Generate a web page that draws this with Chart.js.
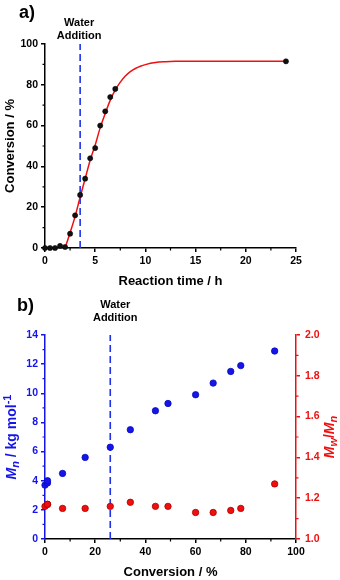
<!DOCTYPE html>
<html lang="en">
<head>
  <meta charset="UTF-8">
  <title>Conversion and molar mass</title>
  <script src="https://cdn.jsdelivr.net/npm/chart.js"></script>
  <style>
    html, body { margin: 0; padding: 0; background: #fff; }
    canvas { display: block; }
  </style>
</head>
<body>
  <canvas id="chartA" width="340" height="290"></canvas>
  <canvas id="chartB" width="340" height="290"></canvas>

  <script>
    // a) conversion vs reaction time
    const timeH = [0, 0.5, 1, 1.5, 2, 2.5, 3, 3.5, 4, 4.5, 5, 5.5, 6, 6.5, 7, 24];
    const conversion = [0, 0, 0, 1, 0.5, 7, 16, 26, 34, 44, 49, 60, 67, 74, 78, 91.5];
    // red fit curve
    const fitTime = [2, 2.5, 3, 3.5, 4, 4.5, 5, 5.5, 6, 6.5, 7, 7.5, 8, 8.5, 9, 9.5, 10, 11, 12, 13, 15, 24];
    const fitConv = [0, 7.5, 15.5, 25, 34, 43, 50.5, 59, 66, 72.5, 77.5, 81.3, 84.3, 86.5, 88, 89.1, 89.9, 90.9, 91.3, 91.5, 91.6, 91.6];
    const waterTime = 3.5;

    // b) Mn and dispersity vs conversion
    const convB = [0, 1, 1, 7, 16, 26, 34, 44, 49, 60, 67, 74, 78, 91.5];
    const mnB = [3.7, 3.85, 4.0, 4.5, 5.6, 6.3, 7.5, 8.8, 9.3, 9.9, 10.7, 11.5, 11.9, 12.9];
    const dispB = [1.16, 1.17, 1.17, 1.15, 1.15, 1.16, 1.18, 1.16, 1.16, 1.13, 1.13, 1.14, 1.15, 1.27];
    const waterConv = 26;

    const FONT = "'Liberation Sans', Arial, sans-serif";
    const BLUE = 'rgb(20,20,235)';
    const RED = 'rgb(240,15,15)';
    const LINE_BLUE = 'rgb(30,50,235)';

    Chart.defaults.font.family = FONT;
    Chart.defaults.font.weight = 'bold';
    Chart.defaults.color = '#000';

    const pts = (xs, ys) => xs.map((x, i) => ({ x: x, y: ys[i] }));

    function axis(color, min, max, step, size, extra) {
      return Object.assign({
        type: 'linear', min: min, max: max,
        border: { display: true, color: color, width: 1.5 },
        grid: { drawOnChartArea: false, drawTicks: true, tickLength: 4, color: color, lineWidth: 1.5 },
        ticks: { stepSize: step, color: color, autoSkip: false, maxRotation: 0,
                 font: { size: 10.5, weight: 'bold' }, padding: 3 },
        afterFit: s => { if (s.isHorizontal()) s.height = size; else s.width = size; }
      }, extra || {});
    }

    // small unlabeled ticks between the major ones
    const minorTicks = {
      id: 'minorTicks',
      afterDraw(chart, args, opts) {
        const ctx = chart.ctx;
        for (const id in opts.steps) {
          const s = chart.scales[id];
          const step = opts.steps[id];
          const n = Math.round((s.max - s.min) / step);
          ctx.save();
          ctx.strokeStyle = s.options.border.color;
          ctx.lineWidth = 1.2;
          ctx.beginPath();
          for (let i = 1; i < n; i += 2) {
            const p = s.getPixelForValue(s.min + i * step);
            if (s.position === 'bottom') { ctx.moveTo(p, s.top); ctx.lineTo(p, s.top + 2.5); }
            else if (s.position === 'left') { ctx.moveTo(s.right, p); ctx.lineTo(s.right - 2.5, p); }
            else { ctx.moveTo(s.left, p); ctx.lineTo(s.left + 2.5, p); }
          }
          ctx.stroke();
          ctx.restore();
        }
      }
    };

    // panel letter, "Water Addition" note and rich y titles
    function drawRich(ctx, parts, cx, cy, color) {
      ctx.save();
      ctx.translate(cx, cy);
      ctx.rotate(-Math.PI / 2);
      ctx.fillStyle = color;
      ctx.textBaseline = 'middle';
      ctx.textAlign = 'left';
      const fontOf = p => (p.it ? 'italic ' : '') + 'bold ' + (p.sub || p.sup ? 11 : 14) + 'px ' + FONT;
      let w = 0;
      parts.forEach(p => { ctx.font = fontOf(p); w += ctx.measureText(p.t).width; });
      let x = -w / 2;
      parts.forEach(p => {
        ctx.font = fontOf(p);
        const dy = p.sub ? 3.5 : (p.sup ? -4.5 : 0);
        ctx.fillText(p.t, x, dy);
        x += ctx.measureText(p.t).width;
      });
      ctx.restore();
    }

    const notes = {
      id: 'notes',
      afterDraw(chart, args, o) {
        const ctx = chart.ctx;
        const xs = chart.scales.x;
        ctx.save();
        ctx.fillStyle = '#000';
        ctx.font = 'bold 18px ' + FONT;
        ctx.textAlign = 'left';
        ctx.textBaseline = 'alphabetic';
        ctx.fillText(o.tag, o.tagX, o.tagY);
        ctx.font = 'bold 11px ' + FONT;
        ctx.textAlign = 'center';
        ctx.textBaseline = 'middle';
        const px = xs.getPixelForValue(o.water) + o.dx;
        ctx.fillText('Water', px, o.noteY);
        ctx.fillText('Addition', px, o.noteY + 13);
        ctx.restore();
        const cy = (chart.chartArea.top + chart.chartArea.bottom) / 2;
        if (o.left) drawRich(ctx, o.left, 12, cy, BLUE);
        if (o.right) drawRich(ctx, o.right, 330, cy, RED);
      }
    };

    new Chart(document.getElementById('chartA'), {
      type: 'scatter',
      data: {
        datasets: [
          { data: pts(timeH, conversion), backgroundColor: '#111', borderColor: '#000',
            borderWidth: 0.5, pointRadius: 2.6, clip: false },
          { data: pts(fitTime, fitConv), showLine: true, borderColor: RED, borderWidth: 1.5,
            pointRadius: 0, tension: 0.4, cubicInterpolationMode: 'monotone' },
          { data: [{ x: waterTime, y: 0 }, { x: waterTime, y: 100 }], showLine: true,
            borderColor: LINE_BLUE, borderWidth: 1.6, borderDash: [7, 4], pointRadius: 0 }
        ]
      },
      options: {
        responsive: false,
        animation: false,
        layout: { padding: { top: 44, right: 44, left: 0, bottom: 0 } },
        plugins: {
          legend: { display: false },
          tooltip: { enabled: false },
          minorTicks: { steps: { x: 2.5, y: 10 } },
          notes: { tag: 'a)', tagX: 19, tagY: 18, water: waterTime, dx: -1, noteY: 23 }
        },
        scales: {
          x: axis('#000', 0, 25, 5, 42, { position: 'bottom',
            title: { display: true, text: 'Reaction time / h', font: { size: 13, weight: 'bold' },
                     padding: { top: 0, bottom: 1 } } }),
          y: axis('#000', 0, 100, 20, 45, { position: 'left',
            title: { display: true, text: 'Conversion / %', font: { size: 13, weight: 'bold' },
                     padding: { top: 3, bottom: 0 } } })
        }
      },
      plugins: [minorTicks, notes]
    });

    new Chart(document.getElementById('chartB'), {
      type: 'scatter',
      data: {
        datasets: [
          { data: pts(convB, mnB), yAxisID: 'y', backgroundColor: BLUE, borderColor: 'rgb(10,10,190)',
            borderWidth: 0.8, pointRadius: 3.2, clip: false },
          { data: pts(convB, dispB), yAxisID: 'y2', backgroundColor: RED, borderColor: 'rgb(170,0,0)',
            borderWidth: 0.8, pointRadius: 3.2, clip: false },
          { data: [{ x: waterConv, y: 0 }, { x: waterConv, y: 14 }], yAxisID: 'y', showLine: true,
            borderColor: LINE_BLUE, borderWidth: 1.6, borderDash: [7, 4], pointRadius: 0 }
        ]
      },
      options: {
        responsive: false,
        animation: false,
        layout: { padding: { top: 45, right: 0, left: 0, bottom: 0 } },
        plugins: {
          legend: { display: false },
          tooltip: { enabled: false },
          minorTicks: { steps: { x: 10, y: 1, y2: 0.1 } },
          notes: {
            tag: 'b)', tagX: 17, tagY: 21, water: waterConv, dx: 5, noteY: 15,
            left: [{ t: 'M', it: true }, { t: 'n', it: true, sub: true }, { t: ' / kg mol' }, { t: '-1', sup: true }],
            right: [{ t: 'M', it: true }, { t: 'w', it: true, sub: true }, { t: '/' }, { t: 'M', it: true }, { t: 'n', it: true, sub: true }]
          }
        },
        scales: {
          x: axis('#000', 0, 100, 20, 41, { position: 'bottom',
            title: { display: true, text: 'Conversion / %', font: { size: 13, weight: 'bold' },
                     padding: { top: 0, bottom: 0 } } }),
          y: axis(BLUE, 0, 14, 2, 45, { position: 'left' }),
          y2: axis(RED, 1, 2, 0.2, 44, { position: 'right',
            ticks: { stepSize: 0.2, color: RED, autoSkip: false, padding: 5,
                     font: { size: 10.5, weight: 'bold' }, callback: v => v.toFixed(1) } })
        }
      },
      plugins: [minorTicks, notes]
    });
  </script>
</body>
</html>
